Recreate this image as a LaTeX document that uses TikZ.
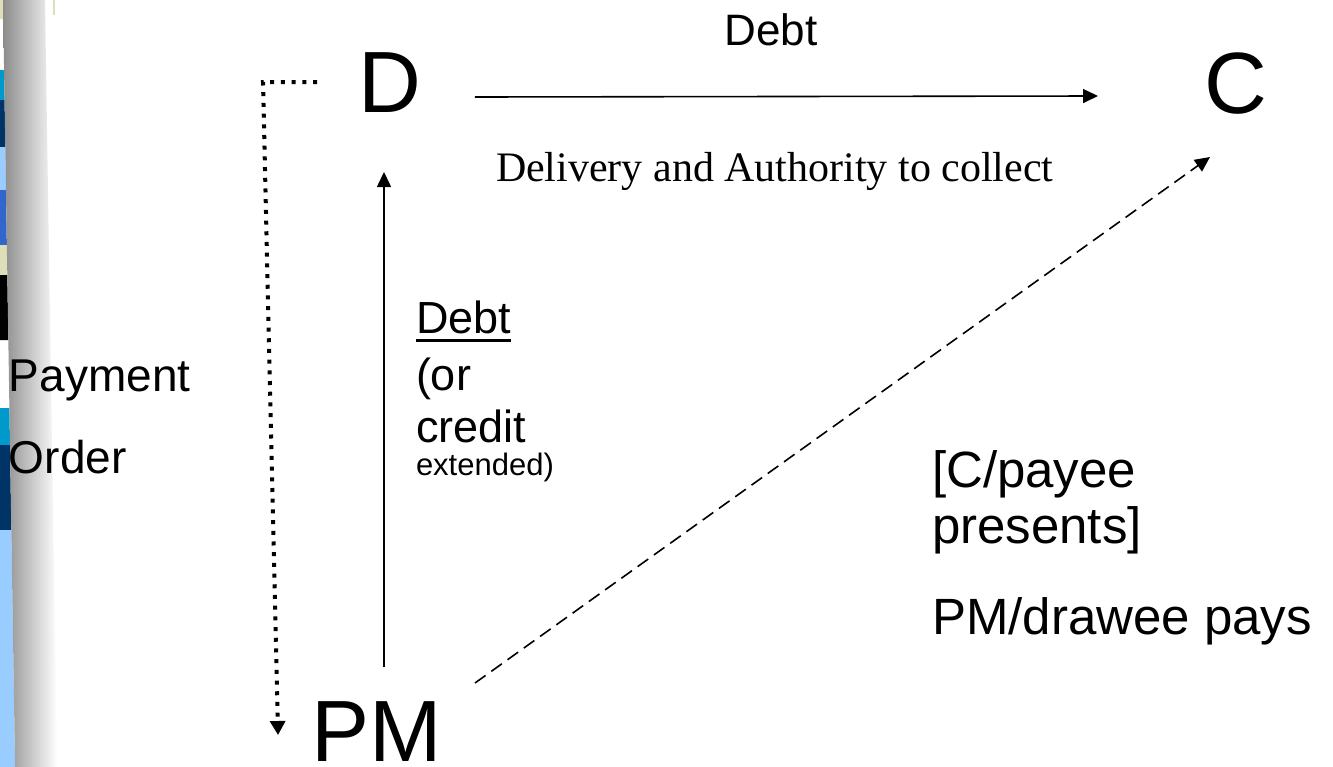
\documentclass[tikz,border=0pt]{standalone}
\usepackage{fontspec}
\setmainfont{Liberation Sans}
\newfontfamily\timesfont{Liberation Serif}
\usetikzlibrary{arrows.meta,calc}
\definecolor{stripcyan}{HTML}{0099CC}
\definecolor{stripnavy}{HTML}{003366}
\definecolor{striplight}{HTML}{99CCFF}
\definecolor{stripblue}{HTML}{3366CC}
\definecolor{stripbeige}{HTML}{DEDEB8}
\begin{document}
\begin{tikzpicture}[x=1pt,y=-1pt,
  lbl/.style={inner sep=0pt, outer sep=0pt, anchor=base west},
  big/.style={lbl, font=\fontsize{87}{87}\selectfont},
  mid/.style={lbl, font=\fontsize{46}{46}\selectfont},
  side/.style={lbl, font=\fontsize{51}{51}\selectfont},
  small/.style={lbl, font=\fontsize{31}{31}\selectfont},
  arr/.style={line width=1.6pt, -{Triangle[length=15pt,width=14pt]}},
  dasharr/.style={arr, dash pattern=on 13pt off 7pt},
  dotarr/.style={line width=4pt, dash pattern=on 4pt off 6.7pt, -{Triangle[length=14pt,width=15pt]}}
]
\useasboundingbox (0,0) rectangle (1333,766);
\clip (0,0) rectangle (1333,766);
\fill[white] (0,0) rectangle (1333,766);
% left decorative strip (slightly slanted)
\begin{scope}[xslant=-0.0157]
  \fill[stripbeige] (-20,0) rectangle (3,19);
  \fill[stripcyan] (-20,70) rectangle (3,100);
  \fill[stripnavy] (-20,100) rectangle (3,147);
  \fill[striplight] (-20,147) rectangle (3,190);
  \fill[stripblue] (-20,190) rectangle (3,245);
  \fill[stripbeige] (-20,245) rectangle (3,275);
  \fill[black] (-20,275) rectangle (3,340);
  \fill[stripcyan] (-20,408) rectangle (3,445);
  \fill[stripnavy] (-20,445) rectangle (3,530);
  \fill[striplight] (-20,530) rectangle (3,780);
  \shade[left color=black!45, right color=white] (3,0) rectangle (45,780);
\end{scope}
\fill[stripbeige] (52.5,0) rectangle (54.5,15);
% main letters
\node[big] (D) at (358,112) {D};
\node[big] (C) at (1204,113) {C};
\node[big] (PM) at (311,761) {PM};
% labels
\node[lbl, anchor=base, font=\fontsize{44}{44}\selectfont] (debttop) at (771,45) {Debt};
\node[lbl, font=\timesfont\fontsize{42}{42}\selectfont] (deliv) at (496,181) {Delivery and Authority to collect};
\node[mid] (pay) at (9,391) {Payment};
\node[mid] (ord) at (9,473) {Order};
\node[mid, font=\fontsize{45}{45}\selectfont] (db1) at (416,333) {Debt};
\draw[line width=3pt] ([yshift=-7pt]db1.base west) -- ([yshift=-7pt]db1.base east);
\node[mid, font=\fontsize{45}{45}\selectfont] (db2) at (416,390) {(or};
\node[mid, font=\fontsize{45}{45}\selectfont] (db3) at (416,442) {credit};
\node[small] (db4) at (416,475) {extended)};
\node[side] (cp1) at (932,487) {[C/payee};
\node[side] (cp2) at (932,543) {presents]};
\node[side] (pmp) at (932,634) {PM/drawee pays};
% connectors
\draw[arr] ([shift={(54,-15)}]D.base east) -- ([shift={(-106,-17)}]C.base west);
\draw[arr] ([shift={(73,-94)}]PM.base west) -- ([shift={(26,60)}]D.base west);
\draw[dasharr] ([shift={(33.5,-78)}]PM.base east) -- ([shift={(6,44)}]C.base west);
\coordinate (corner) at (263,82);
\draw[dotarr] ([shift={(-41,-30)}]D.base west) -- (corner) -- ([shift={(-33,-26)}]PM.base west);
\end{tikzpicture}
\end{document}
